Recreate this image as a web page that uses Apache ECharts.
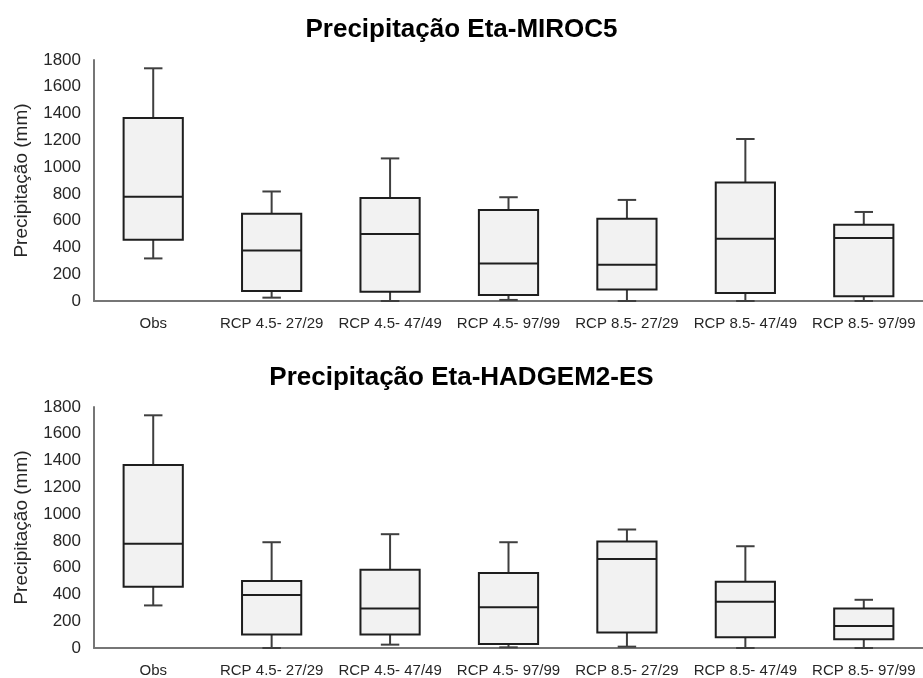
<!DOCTYPE html>
<html>
<head>
<meta charset="utf-8">
<title>Precipitação</title>
<script src="https://cdn.jsdelivr.net/npm/echarts@6/dist/echarts.min.js"></script>
<style>
  html, body { margin: 0; padding: 0; background: #ffffff; }
  #chart { width: 923px; height: 678px; }
</style>
</head>
<body>
<div id="chart"></div>
<script>
// Categories shared by both panels
const categories = ['Obs', 'RCP 4.5- 27/29', 'RCP 4.5- 47/49', 'RCP 4.5- 97/99',
                    'RCP 8.5- 27/29', 'RCP 8.5- 47/49', 'RCP 8.5- 97/99'];

// Y-axis ticks (mm)
const yMin = 0, yMax = 1800, yStep = 200;

// Box statistics per category: [min, Q1, median, Q3, max]
const mirocStats = [
  [318, 457, 778, 1367, 1738],
  [25, 75, 378, 652, 818],
  [0, 70, 500, 770, 1065],
  [8, 45, 280, 680, 775],
  [0, 85, 270, 615, 755],
  [0, 60, 465, 885, 1210],
  [0, 35, 470, 570, 665]
];

const hadgemStats = [
  [318, 457, 778, 1367, 1738],
  [0, 100, 395, 500, 790],
  [25, 100, 295, 585, 850],
  [5, 30, 305, 560, 790],
  [10, 115, 665, 795, 885],
  [0, 80, 345, 495, 760],
  [0, 65, 165, 295, 360]
];

const titles = ['Precipitação Eta-MIROC5', 'Precipitação Eta-HADGEM2-ES'];
const yName = 'Precipitação (mm)';

const FONT = '"Liberation Sans", Arial, sans-serif';
const BOX_FILL = '#f2f2f2';
const BOX_STROKE = '#1e1e1e';
const WHISKER = '#3f3f3f';
const AXIS = '#767676';

// Box-and-whisker drawn from [index, min, Q1, median, Q3, max]
function renderBox(params, api) {
  const x = api.value(0);
  const pMin = api.coord([x, api.value(1)]);
  const pQ1 = api.coord([x, api.value(2)]);
  const pMed = api.coord([x, api.value(3)]);
  const pQ3 = api.coord([x, api.value(4)]);
  const pMax = api.coord([x, api.value(5)]);
  const band = api.size([1, 0])[0];
  const half = band * 0.25;
  const cap = band * 0.078;
  const cx = pMed[0];
  const lineStyle = { stroke: WHISKER, lineWidth: 2 };
  return {
    type: 'group',
    children: [
      { type: 'line', shape: { x1: cx, y1: pQ3[1], x2: cx, y2: pMax[1] }, style: lineStyle },
      { type: 'line', shape: { x1: cx - cap, y1: pMax[1], x2: cx + cap, y2: pMax[1] }, style: lineStyle },
      { type: 'line', shape: { x1: cx, y1: pQ1[1], x2: cx, y2: pMin[1] }, style: lineStyle },
      { type: 'line', shape: { x1: cx - cap, y1: pMin[1], x2: cx + cap, y2: pMin[1] }, style: lineStyle },
      { type: 'rect', shape: { x: cx - half, y: pQ3[1], width: half * 2, height: pQ1[1] - pQ3[1] },
        style: { fill: BOX_FILL, stroke: BOX_STROKE, lineWidth: 2 } },
      { type: 'line', shape: { x1: cx - half, y1: pMed[1], x2: cx + half, y2: pMed[1] },
        style: { stroke: BOX_STROKE, lineWidth: 2 } }
    ]
  };
}

function toRows(stats) {
  return stats.map((s, i) => [i].concat(s));
}

const panels = [
  { top: 60, titleTop: 12, stats: mirocStats },
  { top: 407, titleTop: 360, stats: hadgemStats }
];

const option = {
  animation: false,
  backgroundColor: '#ffffff',
  title: panels.map((p, i) => ({
    text: titles[i],
    left: 'center',
    top: p.titleTop,
    textStyle: { fontFamily: FONT, fontSize: 26, fontWeight: 'bold', color: '#000000' }
  })),
  grid: panels.map(p => ({ left: 94, top: p.top, width: 831, height: 241 })),
  xAxis: panels.map((p, i) => ({
    type: 'category',
    gridIndex: i,
    data: categories,
    boundaryGap: true,
    axisLine: { show: true, lineStyle: { color: AXIS, width: 2 } },
    axisTick: { show: false },
    axisLabel: { interval: 0, margin: 15, fontFamily: FONT, fontSize: 15, color: '#262626' },
    splitLine: { show: false }
  })),
  yAxis: panels.map((p, i) => ({
    type: 'value',
    gridIndex: i,
    min: yMin,
    max: yMax,
    interval: yStep,
    name: yName,
    nameLocation: 'middle',
    nameGap: 63,
    nameTextStyle: { fontFamily: FONT, fontSize: 19, color: '#262626' },
    axisLine: { show: true, lineStyle: { color: AXIS, width: 2 } },
    axisTick: { show: false },
    axisLabel: {
      margin: 13, fontFamily: FONT, fontSize: 17, color: '#262626',
      formatter: v => String(v)
    },
    splitLine: { show: false }
  })),
  series: panels.map((p, i) => ({
    type: 'custom',
    xAxisIndex: i,
    yAxisIndex: i,
    renderItem: renderBox,
    encode: { x: 0, y: [1, 2, 3, 4, 5] },
    data: toRows(p.stats)
  }))
};

const chart = echarts.init(document.getElementById('chart'), null, { renderer: 'canvas' });
chart.setOption(option);
</script>
</body>
</html>
